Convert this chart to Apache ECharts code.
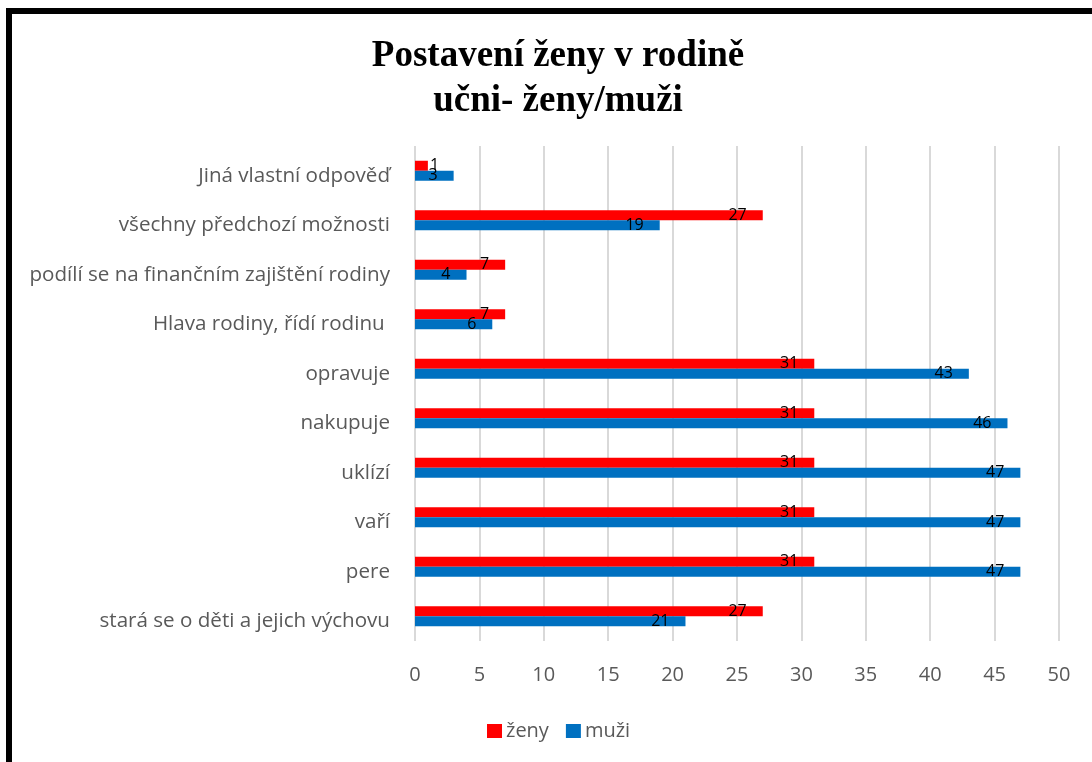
<!DOCTYPE html>
<html>
<head>
<meta charset="utf-8">
<script src="https://cdn.jsdelivr.net/npm/echarts@6/dist/echarts.min.js"></script>
<style>
html, body { margin: 0; padding: 0; background: #fff; }
#main { width: 1092px; height: 762px; }
</style>
</head>
<body>
<div id="main"></div>
<script>
// categories from bottom to top
var categories = [
  'stará se o děti a jejich výchovu',
  'pere',
  'vaří',
  'uklízí',
  'nakupuje',
  'opravuje',
  'Hlava rodiny, řídí rodinu ',
  'podílí se na finančním zajištění rodiny',
  'všechny předchozí možnosti',
  'Jiná vlastní odpověď'
];
var zeny = [27, 31, 31, 31, 31, 31, 7, 7, 27, 1];
var muzi = [21, 47, 47, 47, 46, 43, 6, 4, 19, 3];
var xTicks = [0, 5, 10, 15, 20, 25, 30, 35, 40, 45, 50];

var chart = echarts.init(document.getElementById('main'));

var labelStyle = {
  show: true,
  position: 'insideRight',
  distance: 16,
  color: '#000',
  fontSize: 16,
  fontFamily: 'Open Sans'
};

// very short bars: Excel pushes the label just past the bar end
function withLabels(arr) {
  return arr.map(function (v) {
    if (v < 2) return { value: v, label: { position: 'right', distance: 2 } };
    return v;
  });
}

chart.setOption({
  backgroundColor: '#fff',
  animation: false,
  title: {
    text: 'Postavení ženy v rodině\nučni- ženy/muži',
    left: 553,
    textAlign: 'center',
    top: 29,
    textStyle: {
      fontFamily: 'Liberation Serif',
      fontWeight: 'bold',
      fontSize: 37,
      lineHeight: 45,
      color: '#000'
    }
  },
  legend: {
    data: ['ženy', 'muži'],
    left: 482,
    top: 716,
    itemWidth: 15,
    itemHeight: 14,
    itemGap: 17,
    icon: 'rect',
    textStyle: { fontSize: 20, color: '#595959', fontFamily: 'Open Sans', padding: [0, 0, 0, -1] }
  },
  grid: { left: 415, right: 33, top: 146, bottom: 121, containLabel: false },
  xAxis: {
    type: 'value',
    min: 0,
    max: 50,
    interval: 5,
    axisLine: { show: false },
    axisTick: { show: false },
    splitLine: { lineStyle: { color: '#d9d9d9', width: 2 } },
    axisLabel: {
      fontSize: 20,
      color: '#595959',
      fontFamily: 'Open Sans',
      margin: 24,
      formatter: function (v) { return xTicks.indexOf(v) >= 0 ? String(v) : ''; }
    }
  },
  yAxis: {
    type: 'category',
    data: categories,
    axisLine: { show: false },
    axisTick: { show: false },
    axisLabel: {
      fontSize: 20.6,
      color: '#595959',
      fontFamily: 'Open Sans',
      margin: 25,
      verticalAlign: 'top',
      lineHeight: 10
    }
  },
  series: [
    {
      name: 'ženy',
      type: 'bar',
      data: withLabels(zeny),
      barWidth: 10,
      barGap: '0%',
      itemStyle: { color: '#ff0000' },
      label: labelStyle
    },
    {
      name: 'muži',
      type: 'bar',
      data: withLabels(muzi),
      barWidth: 10,
      barGap: '0%',
      itemStyle: { color: '#0070c0' },
      label: labelStyle
    }
  ],
  graphic: [
    { type: 'rect', shape: { x: 6, y: 8, width: 1086, height: 6 }, style: { fill: '#000' } },
    { type: 'rect', shape: { x: 6, y: 8, width: 6, height: 754 }, style: { fill: '#000' } }
  ]
});
</script>
</body>
</html>
